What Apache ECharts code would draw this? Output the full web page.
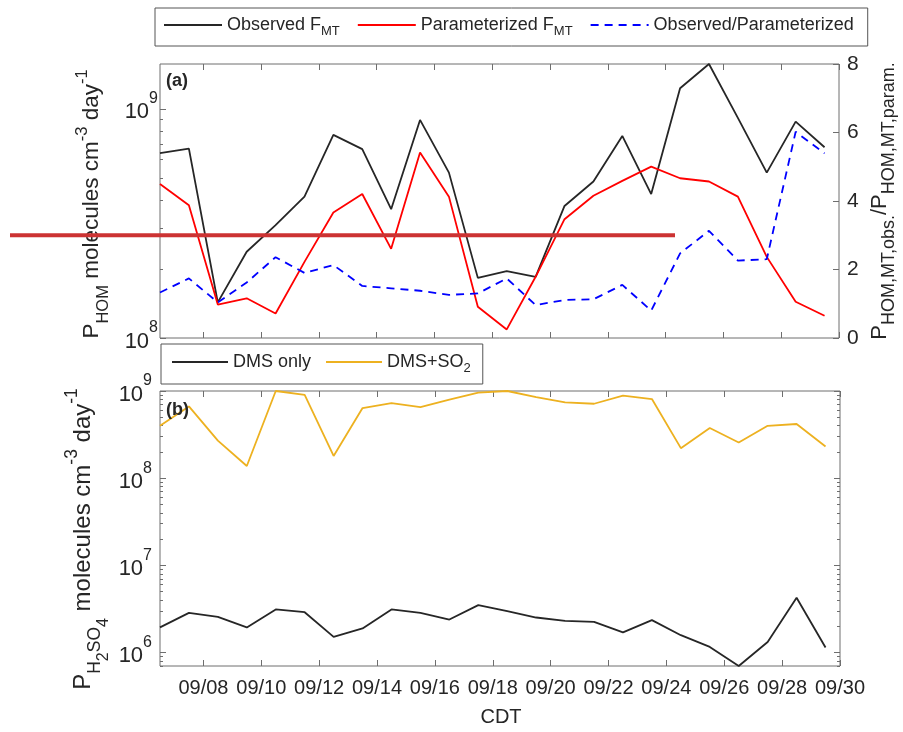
<!DOCTYPE html>
<html>
<head>
<meta charset="utf-8">
<script src="https://cdn.jsdelivr.net/npm/echarts@6/dist/echarts.min.js"></script>
<style>
  html, body { margin: 0; padding: 0; background: #ffffff; }
  #chart { width: 903px; height: 732px; }
</style>
</head>
<body>
<div id="chart"></div>
<script>
// Daily values (plotted at local noon of each day)
const dates = ['09/06', '09/07', '09/08', '09/09', '09/10', '09/11', '09/12', '09/13',
  '09/14', '09/15', '09/16', '09/17', '09/18', '09/19', '09/20', '09/21',
  '09/22', '09/23', '09/24', '09/25', '09/26', '09/27', '09/28', '09/29'];

// (a) HOM production rate from monoterpenes, molecules cm^-3 day^-1
const observedFMT = [6.41e8, 6.71e8, 1.43e8, 2.38e8, 3.11e8, 4.14e8, 7.70e8, 6.67e8,
  3.65e8, 8.95e8, 5.27e8, 1.83e8, 1.96e8, 1.85e8, 3.77e8, 4.82e8,
  7.62e8, 4.25e8, 1.23e9, 1.57e9, 9.14e8, 5.27e8, 8.80e8, 6.80e8];
const parameterizedFMT = [4.70e8, 3.80e8, 1.40e8, 1.49e8, 1.28e8, 2.15e8, 3.53e8, 4.25e8,
  2.45e8, 6.45e8, 4.14e8, 1.37e8, 1.09e8, 1.85e8, 3.30e8, 4.18e8,
  4.85e8, 5.60e8, 4.98e8, 4.82e8, 4.14e8, 2.26e8, 1.44e8, 1.25e8];
const obsToParamRatio = [1.33, 1.74, 1.04, 1.62, 2.36, 1.90, 2.13, 1.52,
  1.45, 1.38, 1.26, 1.30, 1.74, 0.96, 1.11, 1.13,
  1.55, 0.80, 2.47, 3.13, 2.26, 2.30, 6.02, 5.39];

// (b) H2SO4 production rate, molecules cm^-3 day^-1
const dmsOnly = [1.94e6, 2.85e6, 2.56e6, 1.94e6, 3.12e6, 2.90e6, 1.51e6, 1.89e6,
  3.12e6, 2.85e6, 2.39e6, 3.50e6, 2.99e6, 2.52e6, 2.31e6, 2.25e6,
  1.70e6, 2.35e6, 1.58e6, 1.16e6, 7.0e5, 1.32e6, 4.25e6, 1.14e6];
const dmsPlusSO2 = [3.99e8, 6.65e8, 2.70e8, 1.38e8, 1.0e9, 9.05e8, 1.80e8, 6.37e8,
  7.27e8, 6.55e8, 7.94e8, 9.60e8, 1.0e9, 8.53e8, 7.40e8, 7.14e8,
  8.83e8, 8.09e8, 2.21e8, 3.76e8, 2.57e8, 3.99e8, 4.18e8, 2.31e8];

// Axis tick labels
const dayTickLabels = ['09/08', '09/10', '09/12', '09/14', '09/16', '09/18',
  '09/20', '09/22', '09/24', '09/26', '09/28', '09/30'];
const homDecades = [1e8, 1e9];
const h2so4Decades = [1e6, 1e7, 1e8, 1e9];
const ratioTicks = [0, 2, 4, 6, 8];

const FONT = '"Liberation Sans", Arial, Helvetica, sans-serif';
const INK = '#262626';
const FRAME = '#6e6e6e';
const LINE_W = 1.8;

const dayOf = s => Number(s.slice(3));
const noonOf = s => dayOf(s) + 0.5;
const pairs = arr => dates.map((d, i) => [noonOf(d), arr[i]]);
const dayTickValues = dayTickLabels.map(dayOf);

function minorLogTicks(lo, hi) {
  const out = [];
  for (let e = Math.floor(Math.log10(lo)); e <= Math.ceil(Math.log10(hi)); e++) {
    for (let m = 2; m <= 9; m++) {
      const v = m * Math.pow(10, e);
      if (v >= lo && v <= hi) out.push(v);
    }
  }
  return out;
}

const homMin = 1e8, homMax = 1.57e9;
const h2so4Min = 7.0e5, h2so4Max = 1e9;

const decadeLabel = {
  formatter: v => '{m|10}{e|' + Math.round(Math.log10(v)) + '}',
  rich: {
    m: { fontSize: 22, fontFamily: FONT, color: INK, padding: [7, 0, 0, 0] },
    e: { fontSize: 16, fontFamily: FONT, color: INK, padding: [0, 0, 20, 0] }
  }
};

function xAxisPair(gridIndex, withLabels) {
  const base = {
    type: 'value', gridIndex, min: 6.5, max: 30,
    axisLine: { show: false }, splitLine: { show: false },
    axisTick: { show: true, inside: true, length: 6, customValues: dayTickValues,
      lineStyle: { color: FRAME, width: 1 } }
  };
  return [
    Object.assign({}, base, {
      position: 'bottom',
      axisLabel: withLabels ? {
        show: true, customValues: dayTickValues, margin: 12,
        fontSize: 20, fontFamily: FONT, color: INK,
        formatter: v => '09/' + String(v).padStart(2, '0')
      } : { show: false }
    }),
    Object.assign({}, base, { position: 'top', axisLabel: { show: false } })
  ];
}

function logAxis(gridIndex, position, lo, hi, values, length, labels, margin) {
  return {
    type: 'log', logBase: 10, gridIndex, position, min: lo, max: hi,
    axisLine: { show: false }, splitLine: { show: false },
    axisTick: { show: true, inside: true, length, customValues: values,
      lineStyle: { color: FRAME, width: 1 } },
    axisLabel: labels ? Object.assign({ show: true, customValues: values, margin }, decadeLabel)
      : { show: false }
  };
}

const lineSeries = (name, data, xi, yi, color, dash) => ({
  type: 'line', name, data, xAxisIndex: xi, yAxisIndex: yi,
  symbol: 'none', showSymbol: false, clip: true,
  lineStyle: { color, width: LINE_W, type: dash || 'solid' },
  itemStyle: { color },
  emphasis: { disabled: true }
});

const legendText = {
  fontSize: 18, fontFamily: FONT, color: INK,
  rich: { s: { fontSize: 13, fontFamily: FONT, color: INK, padding: [13, 0, 0, 0] } }
};
const legendFormatter = name => name.replace(/_(\w+)/, '{s|$1}');
const legendBox = {
  orient: 'horizontal', itemHeight: 2,
  itemStyle: { opacity: 0 },
  backgroundColor: '#ffffff', borderColor: '#555555', borderWidth: 1, borderRadius: 0,
  selectedMode: false, formatter: legendFormatter, textStyle: legendText
};

const chart = echarts.init(document.getElementById('chart'), null, { renderer: 'canvas' });

const option = {
  animation: false,
  backgroundColor: '#ffffff',
  textStyle: { fontFamily: FONT },
  grid: [
    { left: 160, top: 64, width: 679, height: 274, show: true,
      borderColor: FRAME, borderWidth: 1, backgroundColor: 'transparent' },
    { left: 160, top: 391, width: 680, height: 275, show: true,
      borderColor: FRAME, borderWidth: 1, backgroundColor: 'transparent' }
  ],
  xAxis: [].concat(xAxisPair(0, false), xAxisPair(1, true)),
  yAxis: [
    logAxis(0, 'left', homMin, homMax, homDecades, 6, true, 2),
    logAxis(0, 'left', homMin, homMax, minorLogTicks(homMin, homMax), 3, false),
    {
      type: 'value', gridIndex: 0, position: 'right', min: 0, max: 8,
      axisLine: { show: false }, splitLine: { show: false },
      axisTick: { show: true, inside: true, length: 6, customValues: ratioTicks,
        lineStyle: { color: FRAME, width: 1 } },
      axisLabel: { show: true, customValues: ratioTicks, margin: 8,
        fontSize: 21, fontFamily: FONT, color: INK }
    },
    logAxis(1, 'left', h2so4Min, h2so4Max, h2so4Decades, 6, true, 8),
    logAxis(1, 'left', h2so4Min, h2so4Max, minorLogTicks(h2so4Min, h2so4Max), 3, false),
    logAxis(1, 'right', h2so4Min, h2so4Max, h2so4Decades, 6, false),
    logAxis(1, 'right', h2so4Min, h2so4Max, minorLogTicks(h2so4Min, h2so4Max), 3, false)
  ],
  legend: [
    Object.assign({}, legendBox, {
      data: ['Observed F_MT', 'Parameterized F_MT', 'Observed/Parameterized'],
      left: 155, top: 8, itemWidth: 58, itemGap: 17,
      padding: [8, 14, 8, 8]
    }),
    Object.assign({}, legendBox, {
      data: ['DMS only', 'DMS+SO_2'],
      left: 161, top: 344, itemWidth: 56, itemGap: 14,
      padding: [9, 12, 9, 10]
    })
  ],
  series: [
    lineSeries('Observed F_MT', pairs(observedFMT), 0, 0, INK),
    lineSeries('Parameterized F_MT', pairs(parameterizedFMT), 0, 0, '#ff0000'),
    lineSeries('Observed/Parameterized', pairs(obsToParamRatio), 0, 2, '#0000ff', [8, 6]),
    lineSeries('DMS only', pairs(dmsOnly), 2, 3, INK),
    lineSeries('DMS+SO_2', pairs(dmsPlusSO2), 2, 3, '#EDB120')
  ],
  graphic: { elements: [
    { id: 'panelA', type: 'text', left: 166, top: 72, z: 100,
      style: { text: '(a)', font: 'bold 18px ' + FONT, fill: INK } },
    { id: 'panelB', type: 'text', left: 166, top: 401, z: 100,
      style: { text: '(b)', font: 'bold 18px ' + FONT, fill: INK } },
    { id: 'xName', type: 'text', x: 501, y: 717, z: 100,
      style: { text: 'CDT', font: '20px ' + FONT, fill: INK, align: 'center', verticalAlign: 'middle' } },
    { id: 'yNameA', type: 'text', x: 92, y: 204, rotation: Math.PI / 2, z: 100,
      style: {
        text: 'P{s|HOM} molecules cm{e|-3} day{e|-1}',
        font: '22.5px ' + FONT, fill: INK, align: 'center', verticalAlign: 'middle',
        rich: {
          s: { fontSize: 16.5, fontFamily: FONT, fill: INK, padding: [22, 0, 0, 0] },
          e: { fontSize: 16.5, fontFamily: FONT, fill: INK, padding: [0, 0, 20, 0] }
        }
      } },
    { id: 'yNameRatio', type: 'text', x: 880, y: 201, rotation: Math.PI / 2, z: 100,
      style: {
        text: 'P{s|HOM,MT,obs.}/P{s|HOM,MT,param.}',
        font: '22px ' + FONT, fill: INK, align: 'center', verticalAlign: 'middle',
        rich: {
          s: { fontSize: 18, fontFamily: FONT, fill: INK, padding: [18, 0, 0, 0] }
        }
      } },
    { id: 'yNameB', type: 'text', x: 83, y: 539, rotation: Math.PI / 2, z: 100,
      style: {
        text: 'P{s|H}{ss|2}{s|SO}{ss|4} molecules cm{e|-3} day{e|-1}',
        font: '24px ' + FONT, fill: INK, align: 'center', verticalAlign: 'middle',
        rich: {
          s: { fontSize: 17.5, fontFamily: FONT, fill: INK, padding: [24, 0, 0, 0] },
          ss: { fontSize: 16, fontFamily: FONT, fill: INK, padding: [42, 0, 0, 0] },
          e: { fontSize: 17.5, fontFamily: FONT, fill: INK, padding: [0, 0, 22, 0] }
        }
      } }
  ] }
};

chart.setOption(option);

// Horizontal rule drawn at a ratio of 3 on the right-hand axis of panel (a)
const ratioRuleValue = 3;
const ruleY = chart.convertToPixel({ yAxisIndex: 2 }, ratioRuleValue);
chart.setOption({
  graphic: { elements: [
    { id: 'ratioRule', type: 'line', z: 200,
      shape: { x1: 10, y1: ruleY, x2: 675, y2: ruleY },
      style: { stroke: '#cc3333', lineWidth: 4 } }
  ] }
});
</script>
</body>
</html>
